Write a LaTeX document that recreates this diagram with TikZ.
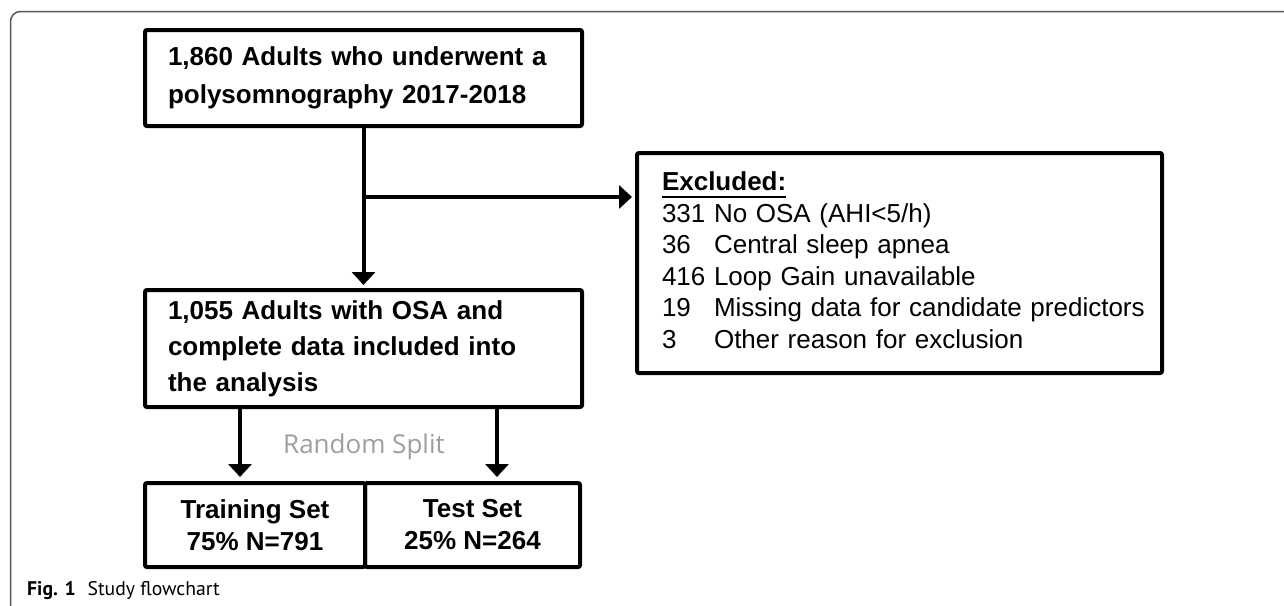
\documentclass[tikz,border=0pt]{standalone}
\usepackage{fontspec}
\setmainfont{Liberation Sans}
\newfontfamily\osans{Open Sans}
\newfontfamily\ptsans{PT Sans}
\usetikzlibrary{arrows.meta}
\newcommand\myul[1]{\setbox0\hbox{#1}\rlap{\rule[-7pt]{\wd0}{2pt}}\box0}
\begin{document}
\begin{tikzpicture}[x=1pt,y=-1pt,
  box/.style={draw, line width=4pt, rounded corners=2pt, inner ysep=0pt},
  arr/.style={line width=4pt, -{Triangle[length=13pt,width=23pt]}},
  frame/.style={draw=black!65, line width=1.5pt, rounded corners=10pt}
]
\useasboundingbox (0,0) rectangle (1284,605);
\draw[frame] (1290,11.5) -- (10.5,11.5) -- (10.5,612);

\node[box, text width=391pt, inner xsep=23pt, minimum height=96pt, align=left,
  font=\bfseries\fontsize{26}{38}\selectfont] (b1) at (363.5,78)
  {1,860 Adults who underwent a\\polysomnography 2017-2018};

\node[box, text width=391pt, inner xsep=23pt, minimum height=117pt, align=left,
  font=\bfseries\fontsize{26}{36}\selectfont] (b2) at (363.5,348.5)
  {1,055 Adults with OSA and\\complete data included into\\the analysis};

\node[box, minimum width=220pt, minimum height=84pt, align=center,
  font=\bfseries\fontsize{26}{32}\selectfont] (tr) at (255,525)
  {Training Set\\75\% N=791};
\node[box, minimum width=215pt, minimum height=84pt, align=center,
  font=\bfseries\fontsize{26}{32}\selectfont] (te) at (472.5,525)
  {Test Set\\25\% N=264};

\node[box, text width=475pt, inner xsep=25pt, minimum height=220pt, align=left,
  font=\fontsize{26}{31.5}\selectfont] (ex) at (899.5,263)
  {\begin{tabular}{@{}l@{\ }l@{}}
   \multicolumn{2}{@{}l@{}}{\bfseries\myul{Excluded:}}\\
   331 & No OSA (AHI<5/h)\\
   36 & Central sleep apnea\\
   416 & Loop Gain unavailable\\
   19 & Missing data for candidate predictors\\
   3 & Other reason for exclusion
   \end{tabular}};

\node[font=\osans\fontsize{26}{30}\selectfont, text=black!38] (rs) at (364,447) {Random Split};

\node[anchor=base west, inner sep=0pt, font=\ptsans\fontsize{19.7}{24}\selectfont] (cap) at (27,595)
  {\textbf{Fig. 1}\hspace{0.6em}Study flowchart};

\draw[arr, shorten >=3pt] (b1.south) -- (b2.north);
\coordinate (j) at (363.5,197);
\draw[arr, shorten >=3pt] (j) -- (j -| ex.west);
\coordinate (s1) at (240,0);
\coordinate (s2) at (497,0);
\draw[arr, shorten >=4pt] (s1 |- b2.south) -- (s1 |- tr.north);
\draw[arr, shorten >=4pt] (s2 |- b2.south) -- (s2 |- te.north);
\end{tikzpicture}
\end{document}
